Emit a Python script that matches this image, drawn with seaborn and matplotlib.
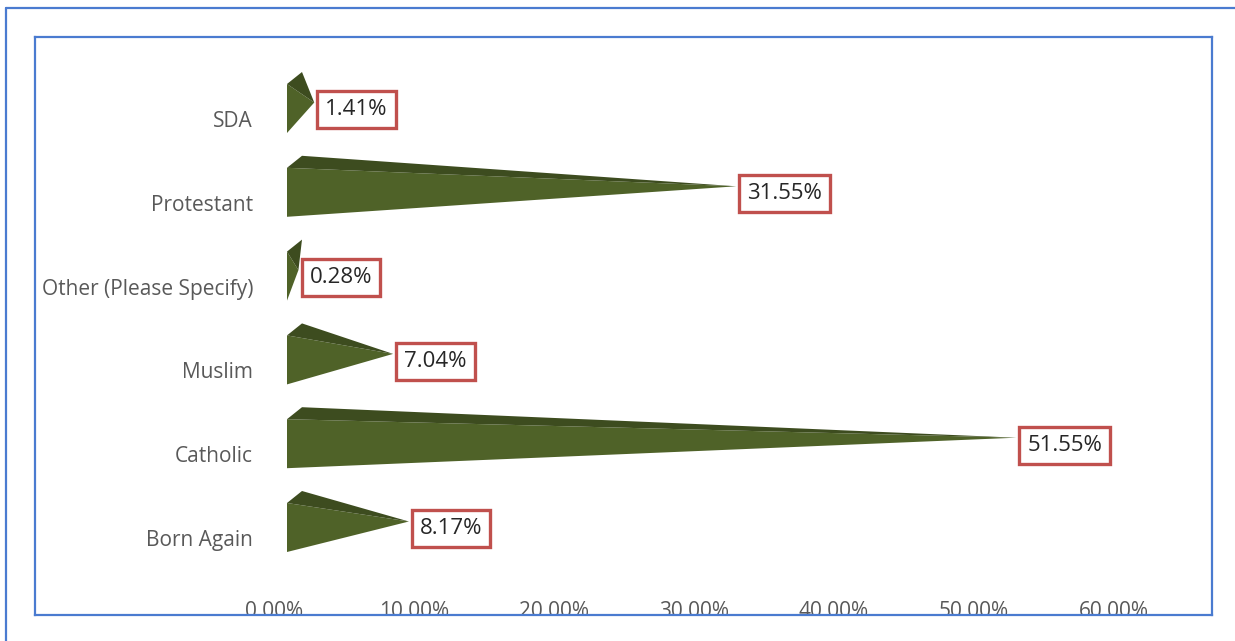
import numpy as np
import pandas as pd
import matplotlib
matplotlib.use("Agg")
import matplotlib.pyplot as plt
import seaborn as sns
from matplotlib.lines import Line2D
from matplotlib.transforms import ScaledTranslation

# ---- data ----
categories = ["Born Again", "Catholic", "Muslim", "Other (Please Specify)", "Protestant", "SDA"]
values = [8.17, 51.55, 7.04, 0.28, 31.55, 1.41]
tick_values = [0, 10, 20, 30, 40, 50, 60]
tick_labels = ["0.00%", "10.00%", "20.00%", "30.00%", "40.00%", "50.00%", "60.00%"]

df = pd.DataFrame({"religion": categories, "share": values})

sns.set_theme(style="white")
plt.rcParams["font.family"] = ["Open Sans", "DejaVu Sans"]

W, H = 1235, 641
fig = plt.figure(figsize=(W / 100, H / 100), dpi=100)
fig.patch.set_facecolor("white")

BLUE = "#4a7bd0"
RED = "#c0504d"
FRONT = "#4f6228"
TOP = "#3d4c1f"
GREY = "#595959"

# plot area (inner framed box)
L, R, T, B = 35, 1212, 37, 615
ax = fig.add_axes([L / W, 1 - B / H, (R - L) / W, (B - T) / H])

# scale: pixels per data unit
XS, YS = 14.0, 83.8
X0, Y0 = 287, 538
ax.set_xlim((L - X0) / XS, (R - X0) / XS)
ax.set_ylim((Y0 - B) / YS, (Y0 - T) / YS)

# 3D pyramid geometry (in data units)
depth_x = 15 / XS
depth_y = 12 / YS
half_h = 24.5 / YS
lift = 10.5 / YS

for i, row in df.iterrows():
    v = row["share"]
    yc = i + lift
    yb, yt = yc - half_h, yc + half_h
    tip = (depth_x / 2 + v, yc + depth_y / 2)
    # front face
    ax.fill([0, 0, tip[0]], [yb, yt, tip[1]], color=FRONT, lw=0, zorder=2)
    # top face
    ax.fill([0, depth_x, tip[0]], [yt, yt + depth_y, tip[1]], color=TOP, lw=0, zorder=2)
    # value label in a framed box
    ax.annotate(f"{v:.2f}%", xy=(tip[0], yc), xytext=(8, -1), textcoords="offset points",
                ha="left", va="center", fontsize=16, color="#262626", zorder=5,
                bbox=dict(boxstyle="square,pad=0.36", fc="white", ec=RED, lw=2.4))

# category labels
ax.set_yticks(range(len(categories)))
ax.set_yticklabels(categories, fontsize=15, color=GREY)
ax.tick_params(axis="y", length=0, pad=-(253 - L) * 0.72)

# value axis labels, clipped by the frame
ax.set_xticks(tick_values)
ax.set_xticklabels(tick_labels, fontsize=15, color=GREY)
ax.tick_params(axis="x", length=0, pad=-14 * 0.72)
shift = ScaledTranslation(-13 / 100, 0, fig.dpi_scale_trans)
for lab in ax.get_xticklabels():
    lab.set_transform(lab.get_transform() + shift)
    lab.set_clip_on(True)
    lab.set_clip_box(ax.bbox)

for sp in ax.spines.values():
    sp.set_visible(True)
    sp.set_color(BLUE)
    sp.set_linewidth(1.6)
ax.set_facecolor("none")

# outer chart frame
fig.add_artist(Line2D([6 / W, 6 / W], [0, 1 - 8 / H], transform=fig.transFigure, color=BLUE, lw=1.6))
fig.add_artist(Line2D([6 / W, 1], [1 - 8 / H, 1 - 8 / H], transform=fig.transFigure, color=BLUE, lw=1.6))

fig.savefig("out.png", dpi=100, facecolor="white")
